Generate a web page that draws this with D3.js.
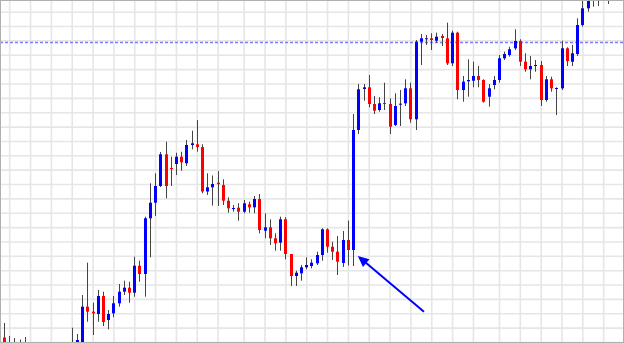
<!DOCTYPE html>
<html>
<head>
<meta charset="utf-8">
<script src="https://cdn.jsdelivr.net/npm/d3@7"></script>
<style>
  body { margin: 0; background: #fff; }
  svg { display: block; }
</style>
</head>
<body>
<div id="chart"></div>
<script>
// OHLC per bar (bar index = position in array), price
const open = [1062.5, 1050, 1053, 1048, 1054, 1048, 1040, 1028, 1035, 1020, 1030, 1024, 1038, 1052, 1044, 1052,
    1093.3, 1088.3, 1086, 1104, 1080, 1086.7, 1096.7, 1108.3, 1112.3, 1107.3, 1134.3, 1126, 1181.7, 1197.3, 1214,
    1245.7, 1232, 1236, 1243.3, 1236.7, 1255, 1255.7, 1253, 1208.5, 1212.7, 1217.3, 1215, 1199.3, 1191.5, 1192.3,
    1188.3, 1195.7, 1192.7, 1201, 1169.3, 1172.7, 1161.7, 1157.3, 1180.7, 1146, 1124, 1126.7, 1132.7, 1134, 1136.7,
    1145, 1170.7, 1153.3, 1148.3, 1137, 1160, 1150, 1270, 1311, 1312.7, 1296, 1290, 1297, 1296, 1275, 1295.3,
    1296.7, 1311.7, 1280.7, 1358.3, 1361.5, 1361.7, 1359.3, 1364, 1361.7, 1336.7, 1367.3, 1310, 1318.7, 1319.3,
    1324, 1320, 1303.3, 1315, 1320, 1341.7, 1345, 1351.7, 1359, 1338.3, 1330.7, 1334.2, 1335, 1300, 1320.7, 1311.7,
    1311.7, 1351.7, 1338.3, 1346, 1375, 1391.7, 1408, 1414, 1418, 1412];
const high = [1077, 1064, 1062, 1060.5, 1063, 1052, 1044, 1039, 1038, 1034, 1033, 1042, 1052, 1072.3, 1066, 1105,
    1137.3, 1097.3, 1110, 1108.3, 1090, 1104, 1116, 1119.3, 1118.3, 1143.3, 1139.3, 1183.3, 1216.7, 1226.7, 1248,
    1258.3, 1243.3, 1247.3, 1248.3, 1260, 1269.3, 1280, 1255.7, 1226.7, 1224.5, 1229, 1220.7, 1202.7, 1195, 1196.7,
    1200, 1198.3, 1204, 1206, 1186.7, 1180.7, 1166.7, 1183.3, 1182.7, 1146, 1129.3, 1135, 1142.7, 1140.7, 1148.3,
    1171.7, 1171.7, 1158.3, 1164, 1169, 1179.5, 1286, 1316, 1316, 1325, 1304, 1302.7, 1317.3, 1301.7, 1306.7, 1310,
    1320.7, 1317.3, 1360, 1366, 1365, 1366.7, 1367.3, 1366, 1377.3, 1369.3, 1368.3, 1324, 1340.7, 1338.3, 1334,
    1320.7, 1316, 1324, 1345, 1348.3, 1353.3, 1370.7, 1360.7, 1346.7, 1344, 1340, 1339, 1324, 1323.3, 1312.7,
    1359.3, 1352.7, 1355, 1381.7, 1402, 1410, 1420, 1424, 1425, 1422];
const low = [1048, 1047, 1046, 1045, 1044, 1036, 1024, 1022, 1016, 1017, 1020, 1022, 1035, 1040, 1040, 1044,
    1078.3, 1065, 1078.3, 1074, 1070.7, 1082.7, 1093.3, 1105, 1097.3, 1103.3, 1118.3, 1103.3, 1142.7, 1184, 1213,
    1201.7, 1214, 1225, 1229.3, 1234, 1250.7, 1248.3, 1206.7, 1205, 1194.5, 1194, 1195, 1187.3, 1188.3, 1179.3,
    1186.7, 1187.3, 1186.7, 1166.7, 1161.7, 1155, 1149.3, 1149.3, 1140.7, 1114, 1114, 1119.3, 1130.7, 1131.7, 1135,
    1139.3, 1147.3, 1140, 1125, 1133, 1134.5, 1134, 1266, 1299.3, 1292.7, 1286, 1288.3, 1290, 1266, 1274, 1274,
    1294, 1277.3, 1270, 1335, 1355, 1350, 1357.3, 1354, 1335, 1334, 1300.7, 1298.3, 1303.3, 1312.7, 1312.7,
    1297.3, 1293.3, 1310.7, 1317.3, 1340, 1343.3, 1350, 1334, 1328.3, 1320.7, 1328.3, 1294, 1298.3, 1308.3, 1285,
    1310, 1334, 1334, 1344, 1373.3, 1388.3, 1393.3, 1394, 1401, 1396];
const close = [1052, 1055, 1049, 1053, 1048, 1040, 1028, 1035, 1020, 1030, 1024, 1038, 1048, 1044, 1060, 1093.3,
    1088.3, 1086.7, 1104, 1078, 1086, 1096.7, 1108.3, 1112.3, 1107.3, 1134.3, 1126, 1181.7, 1197.3, 1214, 1245.7,
    1214, 1231, 1243.3, 1237.7, 1255, 1256.7, 1253, 1208.5, 1212.7, 1216, 1215.8, 1199.3, 1191.7, 1192, 1188.3,
    1196.7, 1192.7, 1201, 1170, 1172.7, 1161.7, 1156.7, 1180.7, 1146, 1124, 1127.3, 1132.7, 1135, 1137.3, 1145,
    1170.7, 1153.3, 1148.3, 1138.3, 1160, 1150, 1270, 1310.7, 1312.7, 1296, 1289.3, 1296.7, 1296, 1273.3, 1294,
    1296.3, 1311.7, 1280.7, 1358.3, 1361.7, 1361.7, 1360, 1363.3, 1362, 1336.7, 1367.3, 1310, 1318.3, 1320, 1324,
    1320, 1298.3, 1311.7, 1320, 1341.7, 1346, 1350.7, 1359, 1338.3, 1330.7, 1334, 1335, 1300, 1320.7, 1311.7, 1312,
    1351.7, 1339, 1346.7, 1375, 1391.7, 1405, 1414, 1418, 1412, 1418];

// bars where a vertical grid line falls
const gridBars = [1, 5, 9, 13, 17, 21, 25, 29, 33, 37, 41, 46, 50, 54, 58, 62, 66, 70, 74, 78, 82, 86, 90,
    95, 99, 103, 107, 111, 115];
// horizontal grid levels
const gridLevels = d3.range(1388.3, 1050, -14.36);

// dashed price level and the arrow annotation (bar, price)
const levelPrice = 1357.5;
const arrowFrom = [80.6, 1088.3];
const arrowTo = [67.9, 1144];

const width = 624, height = 343;

const svg = d3.select("#chart")
    .append("svg")
    .attr("width", width)
    .attr("height", height);

const x = d3.scaleLinear()
    .domain([0, open.length - 1])
    .range([4, 608.4]);

const y = d3.scaleLinear()
    .domain([1057, 1400])
    .range([height, 0]);

// Grid
svg.append("g")
    .call(d3.axisLeft(y).tickValues(gridLevels).tickSize(-width).tickFormat(""))
    .call(g => g.select(".domain").remove())
    .call(g => g.selectAll("line").attr("stroke", "#e6e6e6").attr("stroke-width", 1.6));

svg.append("g")
    .attr("transform", `translate(0,${height})`)
    .call(d3.axisBottom(x).tickValues(gridBars).tickSize(-height).tickFormat(""))
    .call(g => g.select(".domain").remove())
    .call(g => g.selectAll("line").attr("stroke", "#e6e6e6").attr("stroke-width", 1.6));

// Clip for the plot
svg.append("clipPath")
    .attr("id", "plot")
    .append("rect")
    .attr("x", 1).attr("y", 1)
    .attr("width", width - 2).attr("height", height - 2);

const plot = svg.append("g").attr("clip-path", "url(#plot)");

// Dashed level
plot.append("line")
    .attr("x1", 0).attr("x2", width)
    .attr("y1", y(levelPrice)).attr("y2", y(levelPrice))
    .attr("stroke", "#7d7dff")
    .attr("stroke-width", 1.5)
    .attr("stroke-dasharray", "3,2");

const bars = d3.range(open.length);

// Wicks
plot.append("g")
    .selectAll("line")
    .data(bars)
    .join("line")
    .attr("x1", i => Math.round(x(i)) + 0.5)
    .attr("x2", i => Math.round(x(i)) + 0.5)
    .attr("y1", i => y(high[i]))
    .attr("y2", i => y(low[i]))
    .attr("stroke", "#444")
    .attr("stroke-width", 1);

// Bodies
plot.append("g")
    .selectAll("rect")
    .data(bars)
    .join("rect")
    .attr("x", i => Math.round(x(i)) - 1)
    .attr("width", 3)
    .attr("y", i => y(Math.max(open[i], close[i])))
    .attr("height", i => Math.max(1, Math.abs(y(open[i]) - y(close[i]))))
    .attr("fill", i => close[i] >= open[i] ? "#0000ff" : "#ff0000");

// Arrow
const ax0 = x(arrowFrom[0]), ay0 = y(arrowFrom[1]);
const ax1 = x(arrowTo[0]), ay1 = y(arrowTo[1]);
const ang = Math.atan2(ay1 - ay0, ax1 - ax0);
const headLen = 11, headW = 5;
const bx = ax1 - headLen * Math.cos(ang), by = ay1 - headLen * Math.sin(ang);

plot.append("line")
    .attr("x1", ax0).attr("y1", ay0)
    .attr("x2", bx + 2 * Math.cos(ang)).attr("y2", by + 2 * Math.sin(ang))
    .attr("stroke", "#0000ff")
    .attr("stroke-width", 2);

plot.append("path")
    .attr("d", d3.line()([
        [ax1, ay1],
        [bx + headW * Math.sin(ang), by - headW * Math.cos(ang)],
        [bx - headW * Math.sin(ang), by + headW * Math.cos(ang)]
    ]) + "Z")
    .attr("fill", "#0000ff");

// Frame
svg.append("rect")
    .attr("x", 0.5).attr("y", 0.5)
    .attr("width", width - 1).attr("height", height - 1)
    .attr("fill", "none")
    .attr("stroke", "#b0b0b0");
</script>
</body>
</html>
